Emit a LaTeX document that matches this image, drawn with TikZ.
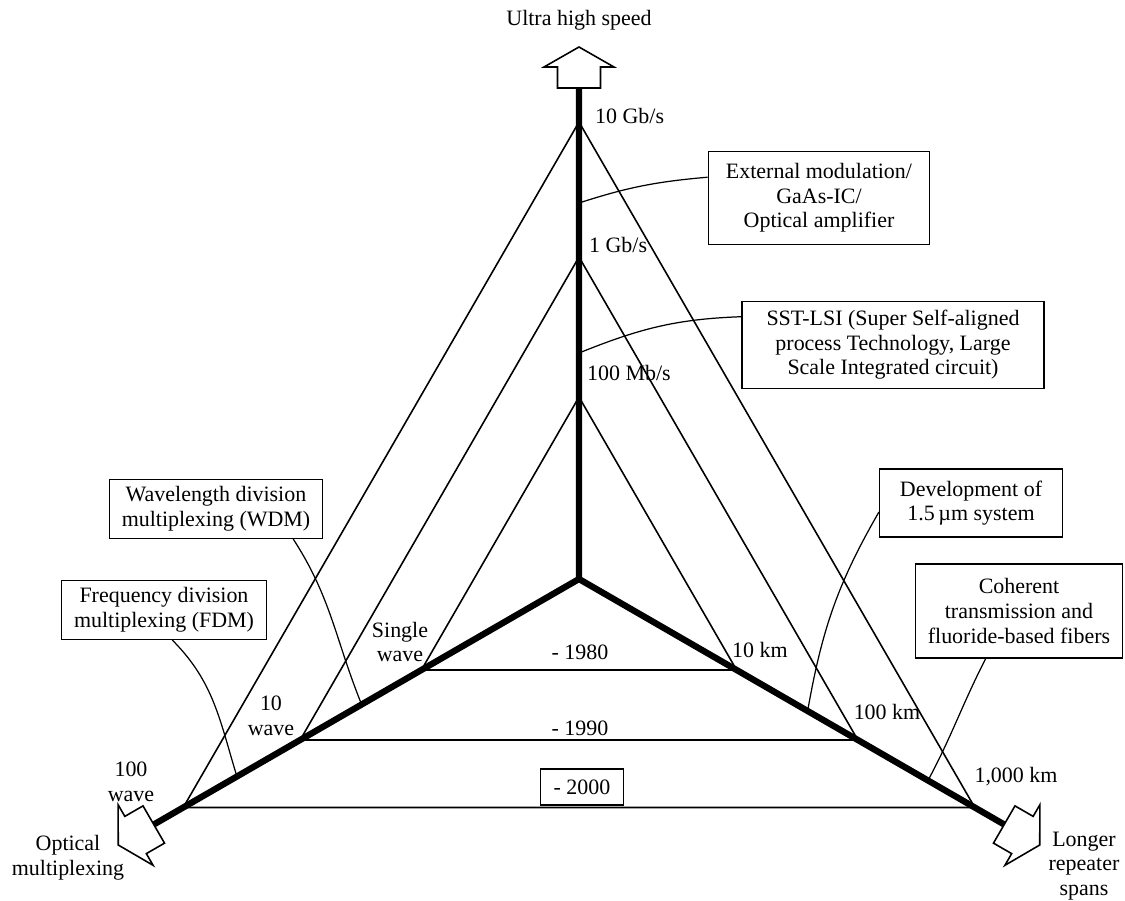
\documentclass[tikz,border=0pt]{standalone}
\usepackage{fontspec}
\setmainfont{Liberation Serif}
\usetikzlibrary{calc}

\begin{document}
\begin{tikzpicture}[x=0.02cm, y=0.02cm,
    txt/.style = {align=center, font=\fontsize{12.5}{14}\selectfont, inner sep=1pt},
    note/.style = {draw, line width=0.8pt, fill=white, align=center, font=\fontsize{12.5}{14}\selectfont, inner xsep=7pt, inner ysep=4pt},
    axis/.style = {line width=3.6pt},
    tri/.style = {line width=0.9pt},
    lead/.style = {line width=0.7pt},
    bigarrow/.style = {draw, line width=0.9pt, fill=white, line join=miter}]
    \useasboundingbox (-579,-321) rectangle (546,579);

    % Points on the axes
    \coordinate (O) at (0,0);
    \coordinate (T1) at (90:182);  \coordinate (L1) at (210:182); \coordinate (R1) at (-30:182);
    \coordinate (T2) at (90:322);  \coordinate (L2) at (210:322); \coordinate (R2) at (-30:322);
    \coordinate (T3) at (90:457);  \coordinate (L3) at (210:457); \coordinate (R3) at (-30:457);

    % Triangles
    \draw[tri] (T1) -- (L1) -- (R1) -- cycle;
    \draw[tri] (T2) -- (L2) -- (R2) -- cycle;
    \draw[tri] (T3) -- (L3) -- (R3) -- cycle;

    % Axes
    \draw[axis] (90:491) -- (O) -- (210:491);
    \draw[axis] (O) -- (-30:491);
    \foreach \a in {90,210,-30}
      \draw[bigarrow, rotate=\a] (491,-21.5) -- (512,-21.5) -- (512,-35) -- (532,0) -- (512,35) -- (512,21.5) -- (491,21.5) -- cycle;

    % Axis labels
    \node[txt] (speed) at (0,559) {Ultra high speed};
    \node[txt] (optical) at (-511,-279) {Optical\\multiplexing};
    \node[txt] (longer) at (505,-287) {Longer\\repeater\\spans};

    \node[txt, anchor=west] (g10) at (14,463) {10 Gb/s};
    \node[txt, anchor=west] (g1) at (8,334) {1 Gb/s};
    \node[txt, anchor=west] (m100) at (6,206) {100 Mb/s};
    \node[txt] (w1) at (-179,-63) {Single\\wave};
    \node[txt] (w10) at (-308,-137) {10\\wave};
    \node[txt] (w100) at (-448,-203) {100\\wave};
    \node[txt] (k10) at (181,-71) {10 km};
    \node[txt] (k100) at (308,-133) {100 km};
    \node[txt] (k1000) at (437,-198) {1,000 km};

    % Years
    \node[txt] (y1980) at (1,-73) {- 1980};
    \node[txt] (y1990) at (1,-149) {- 1990};
    \node[note, minimum width=47pt, minimum height=20.5pt] (y2000) at (3,-208) {- 2000};

    % Notes
    \node[note, minimum width=126pt, minimum height=53pt] (extmod) at (240,381) {External modulation/\\GaAs-IC/\\Optical amplifier};
    \node[note, minimum width=172pt, minimum height=49.5pt] (sstlsi) at (314,234) {SST-LSI (Super Self-aligned\\process Technology, Large\\Scale Integrated circuit)};
    \node[note, minimum width=104pt, minimum height=38.7pt] (devel) at (392,76) {Development of\\1.5\,µm system};
    \node[note, minimum width=118pt, minimum height=53.5pt] (coher) at (440,-32) {Coherent\\transmission and\\fluoride-based fibers};
    \node[note, minimum width=110pt, minimum height=33pt] (wdm) at (-363,70) {Wavelength division\\multiplexing (WDM)};
    \node[note, minimum width=115pt, minimum height=32pt] (fdm) at (-415,-31) {Frequency division\\multiplexing (FDM)};

    % Leaders
    \coordinate (a1) at (90:376);
    \coordinate (a2) at (90:226);
    \coordinate (a3) at (-30:264);
    \coordinate (a4) at (-30:403);
    \coordinate (a5) at (210:251);
    \coordinate (a6) at (210:395);
    \draw[lead] (a1) to[out=18, in=185] ($(extmod.north west)!0.28!(extmod.south west)$);
    \draw[lead] (a2) to[out=22, in=182] ($(sstlsi.north west)!0.18!(sstlsi.south west)$);
    \draw[lead] (a3) to[out=80, in=240] ($(devel.north west)!0.63!(devel.south west)$);
    \draw[lead] (a4) to[out=62, in=243] ($(coher.south west)!0.34!(coher.south east)$);
    \draw[lead] (a5) to[out=112, in=-57] ($(wdm.south west)!0.86!(wdm.south east)$);
    \draw[lead] (a6) to[out=107, in=-45] ($(fdm.south west)!0.54!(fdm.south east)$);

\end{tikzpicture}
\end{document}
